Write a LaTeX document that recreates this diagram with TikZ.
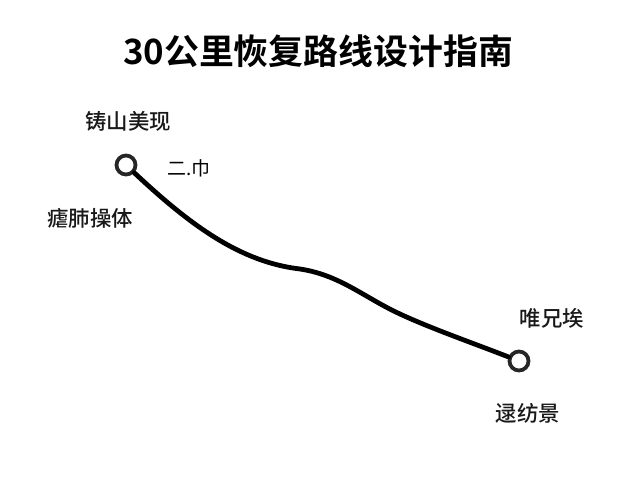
\documentclass[tikz,border=0pt]{standalone}
\usepackage{fontspec}
\usepackage{tikz}
\newfontfamily\cjk{Noto Sans CJK SC}[BoldFont={Noto Sans CJK SC Bold}]
\newfontfamily\cjkmid{Noto Sans CJK SC Medium}

\tikzset{
    stopring/.style={circle,draw=black!85,line width=3.8pt,minimum size=19bp,inner sep=0pt,fill=white},
    placelabel/.style={font=\cjkmid\fontsize{21.5}{24}\selectfont,text=black!90,inner sep=0pt},
}

\begin{document}
\begin{tikzpicture}[x=1bp,y=-1bp]
            \useasboundingbox (0,0) rectangle (640,480);
            \fill[white] (0,0) rectangle (640,480);
            \node (title) at (318,51) {\cjk\bfseries\fontsize{35}{40}\selectfont 30公里恢复路线设计指南};
            \node[stopring] (start) at (126,165) {};
            \node[stopring] (finish) at (519,361) {};
            \coordinate (dip) at (300,269);
            \coordinate (slope) at (400,314);
            \draw[line width=4.8pt,line cap=round] (start) .. controls (190,225) and (240,262) .. (dip)
                .. controls (340,275) and (365,298) .. (slope)
                .. controls (430,328) and (470,342) .. (finish);
            \node[placelabel] (startname) at (128,121) {铸山美现};
            \node[placelabel] (startnote) at (90,218) {瘧肺操体};
            \node[font=\cjk\fontsize{19}{22}\selectfont,inner sep=0pt] (startmark) at (189,168) {二.巾};
            \node[placelabel] (finishname) at (552,318) {唯兄埃};
            \node[placelabel] (finishnote) at (528,413) {逯纺景};
        \end{tikzpicture}
\end{document}
